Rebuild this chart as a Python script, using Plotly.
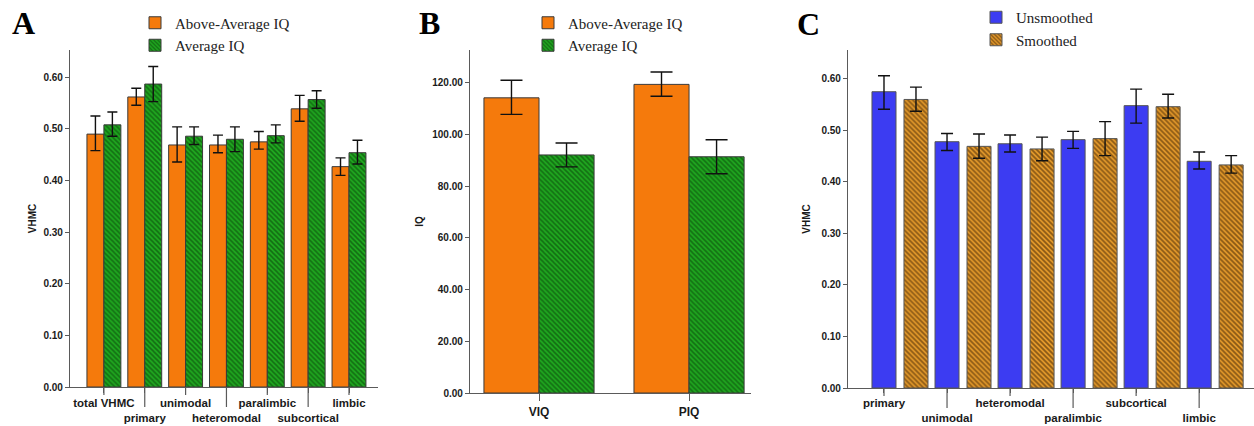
import plotly.graph_objects as go

# ---------------- data ----------------
catsA = ["total VHMC", "primary", "unimodal", "heteromodal", "paralimbic", "subcortical", "limbic"]
aboveA = [0.490, 0.562, 0.469, 0.469, 0.475, 0.539, 0.427]
aboveA_hi = [0.525, 0.579, 0.504, 0.488, 0.495, 0.565, 0.444]
aboveA_lo = [0.458, 0.546, 0.436, 0.454, 0.461, 0.515, 0.410]
avgA = [0.508, 0.587, 0.486, 0.480, 0.487, 0.557, 0.454]
avgA_hi = [0.533, 0.621, 0.504, 0.504, 0.508, 0.574, 0.478]
avgA_lo = [0.486, 0.553, 0.470, 0.456, 0.473, 0.540, 0.432]

catsB = ["VIQ", "PIQ"]
aboveB = [114.2, 119.4]
aboveB_hi = [121.0, 124.2]
aboveB_lo = [107.8, 114.8]
avgB = [92.1, 91.4]
avgB_hi = [96.7, 98.0]
avgB_lo = [87.5, 84.8]

catsC = ["primary", "unimodal", "heteromodal", "paralimbic", "subcortical", "limbic"]
unsmC = [0.575, 0.478, 0.474, 0.482, 0.548, 0.440]
unsmC_hi = [0.606, 0.494, 0.491, 0.498, 0.580, 0.458]
unsmC_lo = [0.541, 0.461, 0.458, 0.465, 0.514, 0.425]
smC = [0.560, 0.469, 0.464, 0.484, 0.546, 0.433]
smC_hi = [0.584, 0.493, 0.487, 0.517, 0.570, 0.451]
smC_lo = [0.537, 0.446, 0.441, 0.451, 0.524, 0.417]

ticksA = [0.0, 0.1, 0.2, 0.3, 0.4, 0.5, 0.6]
ticksB = [0, 20, 40, 60, 80, 100, 120]

# ---------------- styles ----------------
W, H = 1254, 426
ORANGE = "#F57A0C"
GREEN_BG = "#1FA81F"
GREEN_FG = "#073307"
BLUE = "#3C3CF2"
SM_BG = "#E59A2C"
SM_FG = "#2F1800"
EDGE = "#3A3A3A"
AXC = "#5A5A5A"
SANS = "Liberation Sans, Arial, sans-serif"
SERIF = "Liberation Serif, Times New Roman, serif"


def err(mean, hi, lo, half):
    return dict(type="data", symmetric=False,
                array=[h - m for h, m in zip(hi, mean)],
                arrayminus=[m - l for m, l in zip(mean, lo)],
                color="#111111", thickness=1.4, width=half)


def stagger(labels):
    return [t if i % 2 == 0 else "<br>" + t for i, t in enumerate(labels)]


fig = go.Figure()

# Panel A
xA = list(range(len(catsA)))
wA = 0.415
fig.add_trace(go.Bar(x=xA, y=aboveA, width=wA, offset=-wA, name="Above-Average IQ",
                     marker=dict(color=ORANGE, line=dict(color=EDGE, width=1)),
                     error_y=err(aboveA, aboveA_hi, aboveA_lo, 5),
                     xaxis="x", yaxis="y", legend="legend"))
fig.add_trace(go.Bar(x=xA, y=avgA, width=wA, offset=0, name="Average IQ",
                     marker=dict(color=GREEN_BG, line=dict(color=EDGE, width=1),
                                 pattern=dict(shape="\\", bgcolor=GREEN_BG, fgcolor=GREEN_FG,
                                              size=3.5, solidity=0.45)),
                     error_y=err(avgA, avgA_hi, avgA_lo, 5),
                     xaxis="x", yaxis="y", legend="legend"))

# Panel B
xB = list(range(len(catsB)))
wB = 0.367
fig.add_trace(go.Bar(x=xB, y=aboveB, width=wB, offset=-wB, name="Above-Average IQ",
                     marker=dict(color=ORANGE, line=dict(color=EDGE, width=1)),
                     error_y=err(aboveB, aboveB_hi, aboveB_lo, 11),
                     xaxis="x2", yaxis="y2", legend="legend2"))
fig.add_trace(go.Bar(x=xB, y=avgB, width=wB, offset=0, name="Average IQ",
                     marker=dict(color=GREEN_BG, line=dict(color=EDGE, width=1),
                                 pattern=dict(shape="\\", bgcolor=GREEN_BG, fgcolor=GREEN_FG,
                                              size=3.5, solidity=0.45)),
                     error_y=err(avgB, avgB_hi, avgB_lo, 11),
                     xaxis="x2", yaxis="y2", legend="legend2"))

# Panel C
xC = list(range(len(catsC)))
wC = 0.381
fig.add_trace(go.Bar(x=xC, y=unsmC, width=wC, offset=-wC / 2, name="Unsmoothed",
                     marker=dict(color=BLUE, line=dict(color="#555555", width=1)),
                     error_y=err(unsmC, unsmC_hi, unsmC_lo, 6),
                     xaxis="x3", yaxis="y3", legend="legend3"))
fig.add_trace(go.Bar(x=xC, y=smC, width=wC, offset=0.317, name="Smoothed",
                     marker=dict(color=SM_BG, line=dict(color="#555555", width=1),
                                 pattern=dict(shape="\\", bgcolor=SM_BG, fgcolor=SM_FG,
                                              size=3.5, solidity=0.5)),
                     error_y=err(smC, smC_hi, smC_lo, 6),
                     xaxis="x3", yaxis="y3", legend="legend3"))


def px_x(p):
    return p / W


def px_y(p):
    return 1 - p / H


axis_common = dict(showline=True, linecolor=AXC, linewidth=1.3, showgrid=False,
                   zeroline=False, ticks="outside", tickcolor=AXC, tickwidth=1.2,
                   automargin=False, tickangle=0, fixedrange=True)
xfont = dict(family=SANS, size=11.5, color="#1a1a1a", weight="bold")
yfont = dict(family=SANS, size=10, color="#1a1a1a", weight="bold")
ttl_font = dict(family=SANS, size=10, weight="bold", color="#1a1a1a")

domA_y = [px_y(387), px_y(50)]
domB_y = [px_y(393), px_y(50)]
domC_y = [px_y(388), px_y(50)]
leg_font = dict(family=SERIF, size=15, color="#222")

fig.update_layout(
    width=W, height=H, margin=dict(l=0, r=0, t=0, b=0, autoexpand=False),
    paper_bgcolor="white", plot_bgcolor="white", barmode="overlay", showlegend=True,
    xaxis=dict(axis_common, domain=[px_x(70), px_x(378)], anchor="y",
               range=[-0.83, 6.71], tickvals=xA, ticktext=stagger(catsA), ticklen=5,
               tickfont=xfont),
    yaxis=dict(axis_common, domain=domA_y, anchor="x", range=[0, 0.653],
               tickvals=ticksA, tickformat=".2f", ticklen=4, tickfont=yfont,
               title=dict(text="VHMC", font=ttl_font, standoff=4)),
    xaxis2=dict(axis_common, domain=[px_x(470), px_x(751)], anchor="y2",
                range=[-0.46, 1.413], tickvals=xB, ticktext=catsB, ticklen=7,
                tickfont=dict(xfont, size=12)),
    yaxis2=dict(axis_common, domain=domB_y, anchor="x2", range=[0, 132.7],
                tickvals=ticksB, tickformat=".2f", ticklen=4, tickfont=yfont,
                title=dict(text="IQ", font=ttl_font, standoff=6)),
    xaxis3=dict(axis_common, domain=[px_x(848), 1.0], anchor="y3",
                range=[-0.571, 5.87], tickvals=xC, ticktext=stagger(catsC), ticklen=4,
                tickfont=dict(xfont, size=11.5)),
    yaxis3=dict(axis_common, domain=domC_y, anchor="x3", range=[0, 0.656],
                tickvals=ticksA, tickformat=".2f", ticklen=4, tickfont=yfont,
                title=dict(text="VHMC", font=ttl_font, standoff=8)),
    legend=dict(x=px_x(135), y=px_y(6.5), xanchor="left", yanchor="top",
                font=leg_font, bgcolor="rgba(0,0,0,0)", tracegroupgap=0, itemwidth=30),
    legend2=dict(x=px_x(528), y=px_y(6.5), xanchor="left", yanchor="top",
                 font=leg_font, bgcolor="rgba(0,0,0,0)", tracegroupgap=0, itemwidth=30),
    legend3=dict(x=px_x(976), y=px_y(1), xanchor="left", yanchor="top",
                 font=leg_font, bgcolor="rgba(0,0,0,0)", tracegroupgap=0, itemwidth=30),
)


# tick marks: short for first-row labels, long for second-row labels
def tick_marks(xref, yref, xs, dom, short_px, long_px):
    dom_px = (dom[1] - dom[0]) * H
    for i, xv in enumerate(xs):
        L = long_px if i % 2 == 1 else short_px
        fig.add_shape(type="line", xref=xref, yref=yref + " domain",
                      x0=xv, x1=xv, y0=0, y1=-L / dom_px,
                      line=dict(color=AXC, width=1.2))


tick_marks("x", "y", xA, domA_y, 8, 20)
tick_marks("x3", "y3", xC, domC_y, 8, 20)

# panel letters
for letter, xp, yp in [("A", 23, 23), ("B", 430, 23), ("C", 808, 24)]:
    fig.add_annotation(text=letter, x=px_x(xp), y=px_y(yp), xref="paper", yref="paper",
                       showarrow=False, xanchor="center", yanchor="middle",
                       font=dict(family=SERIF, size=32, color="black", weight="bold"))

fig.write_html("out.html")
